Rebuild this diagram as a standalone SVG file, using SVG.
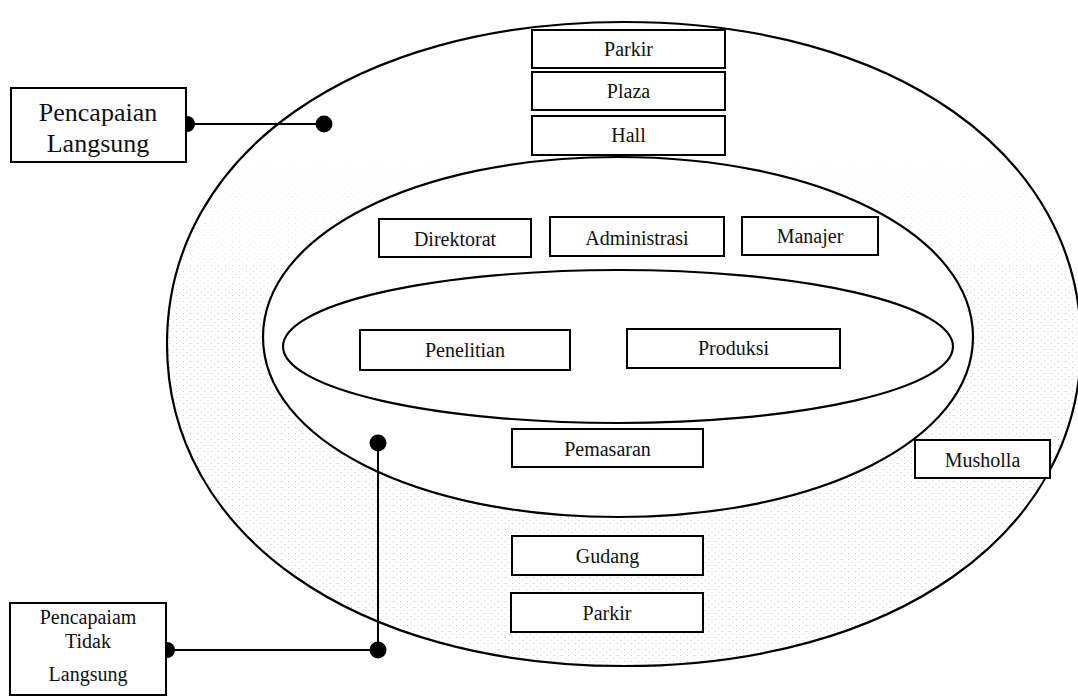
<svg xmlns="http://www.w3.org/2000/svg" width="1078" height="696" viewBox="0 0 1078 696">
  <style>
    .zone { fill: none; stroke: #000; stroke-width: 2.2; }
    .box { fill: #fff; stroke: #000; stroke-width: 2; }
    .lbl { font-family: "Liberation Serif", "Times New Roman", serif; font-size: 20px; fill: #111; text-anchor: middle; }
    .big { font-size: 26px; }
    .link { fill: none; stroke: #000; stroke-width: 2; }
    .dot { fill: #000; }
  </style>
  <defs>
    <!-- light halftone used for the ring between the outer and middle zones -->
    <pattern id="stipple" width="7" height="6" patternUnits="userSpaceOnUse">
      <rect x="1" y="1" width="1" height="1" fill="#9a9a9a"/>
      <rect x="4.5" y="4" width="1" height="1" fill="#b5b5b5"/>
    </pattern>
    <!-- halftone fades in towards the lower half of the ring -->
    <linearGradient id="fadeDown" x1="0" y1="0" x2="0" y2="1">
      <stop offset="0.22" stop-color="#fff" stop-opacity="0"/>
      <stop offset="0.45" stop-color="#fff" stop-opacity="1"/>
    </linearGradient>
    <mask id="lowerBand" maskUnits="userSpaceOnUse" x="0" y="0" width="1078" height="696">
      <rect x="0" y="0" width="1078" height="696" fill="url(#fadeDown)"/>
    </mask>
  </defs>

  <rect width="1078" height="696" fill="#fff"/>

  <!-- zones -->
  <g id="zones">
    <path fill="url(#stipple)" fill-rule="evenodd" opacity="0.55" mask="url(#lowerBand)"
      d="M167,344 C167,154 354.4,22 624,22 C893.6,22 1081,154 1081,344 C1081,534 893.6,666 624,666 C354.4,666 167,534 167,344 Z
         M263,337 C263,234.4 416,157 618,157 C820,157 973,234.4 973,337 C973,439.6 820,517 618,517 C416,517 263,439.6 263,337 Z"/>
    <path id="zone-outer" class="zone" d="M167,344 C167,154 354.4,22 624,22 C893.6,22 1081,154 1081,344 C1081,534 893.6,666 624,666 C354.4,666 167,534 167,344 Z"/>
    <path id="zone-middle" class="zone" d="M263,337 C263,234.4 416,157 618,157 C820,157 973,234.4 973,337 C973,439.6 820,517 618,517 C416,517 263,439.6 263,337 Z"/>
    <ellipse id="zone-inner" class="zone" cx="618" cy="346.5" rx="335" ry="76.5"/>
  </g>

  <!-- connectors -->
  <g id="connectors">
    <line class="link" x1="186" y1="124" x2="324" y2="124"/>
    <circle class="dot" cx="187" cy="124" r="8"/>
    <circle class="dot" cx="324" cy="124" r="8.5"/>

    <polyline class="link" points="166,650 378,650 378,443"/>
    <circle class="dot" cx="167" cy="650" r="8"/>
    <circle class="dot" cx="378" cy="650" r="8.5"/>
    <circle class="dot" cx="378" cy="443" r="8.5"/>
  </g>

  <!-- access points -->
  <g id="pencapaian-langsung">
    <rect class="box" x="11" y="88" width="175" height="74"/>
    <text class="lbl big" x="98" y="121">Pencapaian</text>
    <text class="lbl big" x="98" y="152">Langsung</text>
  </g>
  <g id="pencapaian-tidak-langsung">
    <rect class="box" x="10" y="603" width="156" height="92"/>
    <text class="lbl" x="88" y="624">Pencapaiam</text>
    <text class="lbl" x="88" y="648">Tidak</text>
    <text class="lbl" x="88" y="681">Langsung</text>
  </g>

  <!-- outer zone -->
  <g id="parkir-atas">
    <rect class="box" x="532" y="30" width="193" height="38"/>
    <text class="lbl" x="628.5" y="56">Parkir</text>
  </g>
  <g id="plaza">
    <rect class="box" x="532" y="72" width="193" height="38"/>
    <text class="lbl" x="628.5" y="98">Plaza</text>
  </g>
  <g id="hall">
    <rect class="box" x="532" y="116" width="193" height="39"/>
    <text class="lbl" x="628.5" y="142">Hall</text>
  </g>

  <!-- middle zone -->
  <g id="direktorat">
    <rect class="box" x="379" y="219" width="152" height="38"/>
    <text class="lbl" x="455" y="246">Direktorat</text>
  </g>
  <g id="administrasi">
    <rect class="box" x="550" y="217" width="174" height="39"/>
    <text class="lbl" x="637" y="245">Administrasi</text>
  </g>
  <g id="manajer">
    <rect class="box" x="742" y="217" width="136" height="38"/>
    <text class="lbl" x="810" y="243">Manajer</text>
  </g>

  <!-- inner zone -->
  <g id="penelitian">
    <rect class="box" x="360" y="330" width="210" height="40"/>
    <text class="lbl" x="465" y="357">Penelitian</text>
  </g>
  <g id="produksi">
    <rect class="box" x="627" y="329" width="213" height="39"/>
    <text class="lbl" x="733.5" y="355">Produksi</text>
  </g>

  <g id="pemasaran">
    <rect class="box" x="512" y="429" width="191" height="38"/>
    <text class="lbl" x="607.5" y="456">Pemasaran</text>
  </g>
  <g id="musholla">
    <rect class="box" x="915" y="440" width="135" height="38"/>
    <text class="lbl" x="982.5" y="467">Musholla</text>
  </g>
  <g id="gudang">
    <rect class="box" x="512" y="536" width="191" height="39"/>
    <text class="lbl" x="607.5" y="563">Gudang</text>
  </g>
  <g id="parkir-bawah">
    <rect class="box" x="511" y="593" width="192" height="39"/>
    <text class="lbl" x="607" y="620">Parkir</text>
  </g>
</svg>
